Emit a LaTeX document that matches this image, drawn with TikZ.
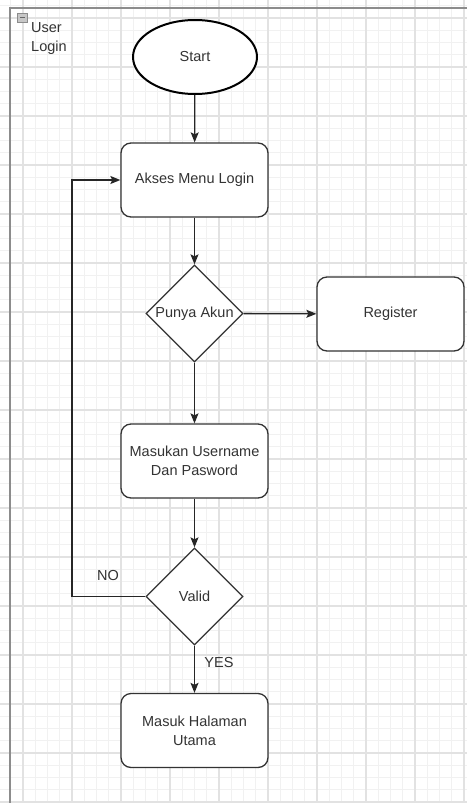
\documentclass[tikz,border=0pt]{standalone}
\usepackage{fontspec}
\setmainfont{Liberation Sans}
\usetikzlibrary{shapes.geometric,arrows.meta}
\definecolor{gridminor}{HTML}{F1F1F1}
\definecolor{gridmajor}{HTML}{E2E2E2}
\definecolor{framegray}{HTML}{8C8C8C}
\definecolor{inkgray}{HTML}{333333}
\tikzset{
  every node/.style={font=\fontsize{14.5}{19}\selectfont, text=inkgray},
  procbox/.style={draw=inkgray, line width=1.3pt, rounded corners=10pt, fill=white,
    minimum width=147pt, minimum height=74pt, inner sep=0pt, align=center},
  decision/.style={draw=inkgray, line width=1.3pt, diamond, fill=white,
    minimum width=97pt, minimum height=97pt, inner sep=0pt, align=center},
  terminal/.style={draw=black, line width=2pt, ellipse, fill=white,
    minimum width=124pt, minimum height=74pt, inner sep=0pt},
  flow/.style={draw=black!85, line width=1.3pt, -{Stealth[length=10pt,width=8pt,inset=2pt]}},
  tag/.style={inner sep=0pt}
}
\begin{document}
\begin{tikzpicture}[x=1pt,y=-1pt]
\useasboundingbox (0,0) rectangle (467,803);
\fill[white] (0,0) rectangle (467,803);
% background grid
\foreach \i in {-5,...,32} \draw[gridminor, line width=1pt] ({72+12.25*\i},0) -- ({72+12.25*\i},803);
\foreach \j in {-1,...,64} \draw[gridminor, line width=1pt] (0,{18+12.25*\j}) -- (467,{18+12.25*\j});
\foreach \k in {-1,...,8} \draw[gridmajor, line width=1.2pt] ({72+49*\k},0) -- ({72+49*\k},803);
\foreach \k in {0,...,16} \draw[gridmajor, line width=1.2pt] (0,{18+49*\k}) -- (467,{18+49*\k});
% container frame
\draw[framegray, line width=2.2pt] (10,803) -- (10,8) -- (467,8);
\draw[framegray, fill=black!22, line width=0.8pt] (17,13) rectangle (27,22);
\draw[black!60, line width=1pt] (19.5,17.5) -- (24.5,17.5);
\node[tag, anchor=north west, align=left] (title) at (31,22) {User\\Login};

% flow nodes
\node[terminal] (start) at (195,57) {Start};
\node[procbox] (akses) at (194.5,180) {Akses Menu Login};
\node[decision] (punya) at (194.5,313.5) {Punya Akun};
\node[procbox] (register) at (390.5,314) {Register};
\node[procbox] (masukan) at (194.5,461) {Masukan Username\\Dan Pasword};
\node[decision] (valid) at (194.5,596.5) {Valid};
\node[procbox] (masuk) at (194.5,730.5) {Masuk Halaman\\Utama};

\coordinate (loop) at (72,596.5);

% connectors
\draw[flow] (start) -- (akses);
\draw[flow] (akses) -- (punya);
\draw[flow] (punya) -- (register);
\draw[flow] (punya) -- (masukan);
\draw[flow] (masukan) -- (valid);
\draw[flow] (valid.west) -- (loop) |- (akses.west);
\draw[flow] (valid) -- (masuk);

\node[tag] (no) at (108,576) {NO};
\node[tag] (yes) at (219,663) {YES};
\end{tikzpicture}
\end{document}
